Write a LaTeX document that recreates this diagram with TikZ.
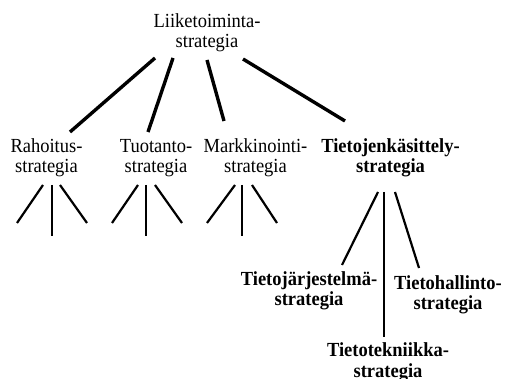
\documentclass[tikz,border=0pt]{standalone}
\usepackage{graphicx}
\usepackage{fontspec}
\setmainfont{Liberation Serif}
% slightly taller glyphs
\newcommand\tallline[1]{\scalebox{1}[1.08]{#1}}
\begin{document}
\begin{tikzpicture}[x=1pt,y=-1pt,
  lbl/.style={inner sep=0pt,anchor=base,align=center,
    font=\fontsize{18.5}{20.5}\selectfont},
  blbl/.style={lbl,font=\fontsize{18.5}{20.5}\selectfont\bfseries},
  thick link/.style={line width=3.4pt},
  thin link/.style={line width=2.2pt}]
\useasboundingbox (0,0) rectangle (506,379);

% labels (anchored at the baseline of their last line)
\node[lbl]  (root) at (207,48)   {\tallline{Liiketoiminta-}\\\tallline{strategia}};
\node[lbl]  (rah)  at (46.5,173) {\tallline{Rahoitus-}\\\tallline{strategia}};
\node[lbl]  (tuo)  at (156,173)  {\tallline{Tuotanto-}\\\tallline{strategia}};
\node[lbl]  (mar)  at (255.5,173){\tallline{Markkinointi-}\\\tallline{strategia}};
\node[blbl] (tkk)  at (390.5,173){\tallline{Tietojenkäsittely-}\\\tallline{strategia}};
\node[blbl] (tjs)  at (309,306)  {\tallline{Tietojärjestelmä-}\\\tallline{strategia}};
\node[blbl] (thl)  at (448,310)  {\tallline{Tietohallinto-}\\\tallline{strategia}};
\node[blbl] (ttk)  at (388,377)  {\tallline{Tietotekniikka-}\\\tallline{strategia}};

% end points of the upper links
\coordinate (r1) at (155,58);  \coordinate (c1) at (70,132);
\coordinate (r2) at (173,58);  \coordinate (c2) at (148,132);
\coordinate (r3) at (207,60);  \coordinate (c3) at (224,121);
\coordinate (r4) at (243,59);  \coordinate (c4) at (345,121);
\draw[thick link] (r1) -- (c1);
\draw[thick link] (r2) -- (c2);
\draw[thick link] (r3) -- (c3);
\draw[thick link] (r4) -- (c4);

% open branches below the three left strategies
\foreach \n/\l/\m/\r/\a/\b/\c in {
  a/43/52/60/17/52/87,
  b/138/146/155/112/146/182,
  c/235/242/252/207/242/277}{
  \coordinate (\n L) at (\l,185); \coordinate (\n Le) at (\a,223);
  \coordinate (\n M) at (\m,185); \coordinate (\n Me) at (\b,236);
  \coordinate (\n R) at (\r,185); \coordinate (\n Re) at (\c,223);
  \draw[thin link] (\n L) -- (\n Le);
  \draw[thin link] (\n M) -- (\n Me);
  \draw[thin link] (\n R) -- (\n Re);
}

% branches of the information processing strategy
\coordinate (s1) at (378,192); \coordinate (e1) at (342,265);
\coordinate (s2) at (384,192); \coordinate (e2) at (384,337);
\coordinate (s3) at (395,192); \coordinate (e3) at (419,268);
\draw[thin link] (s1) -- (e1);
\draw[thin link] (s2) -- (e2);
\draw[thin link] (s3) -- (e3);
\end{tikzpicture}
\end{document}
